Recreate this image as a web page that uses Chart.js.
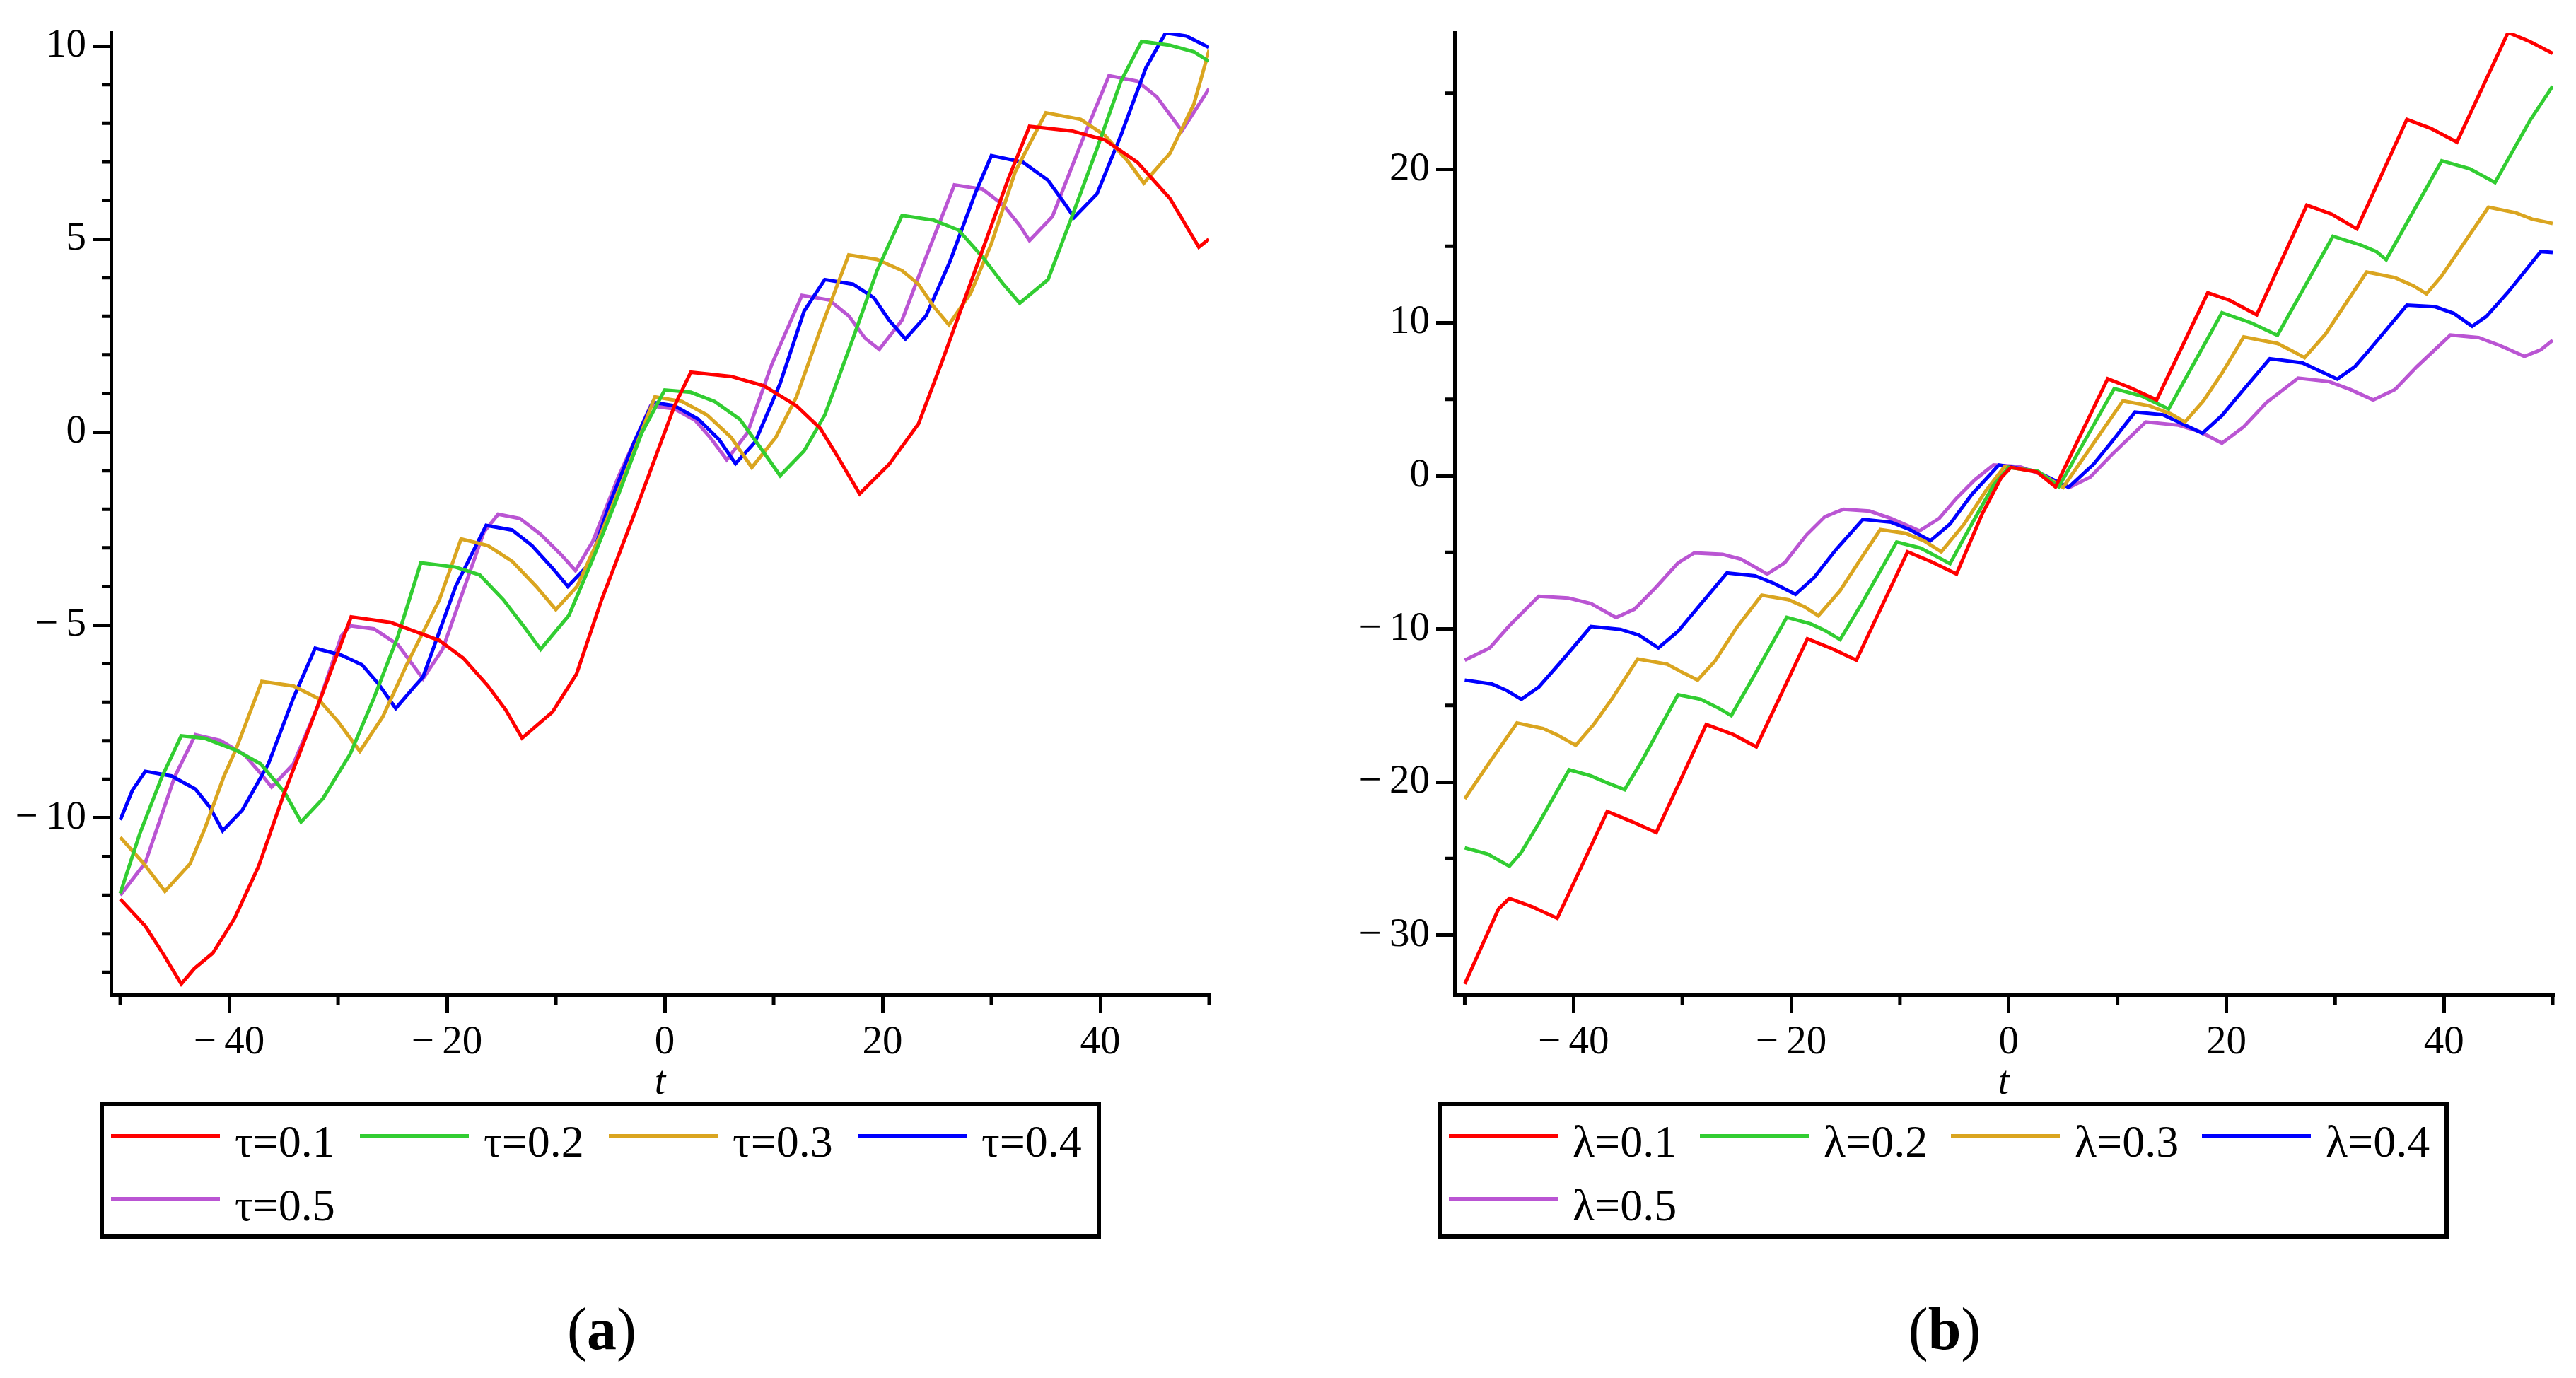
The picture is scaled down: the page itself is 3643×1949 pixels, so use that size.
<!DOCTYPE html>
<html>
<head>
<meta charset="utf-8">
<script src="https://cdn.jsdelivr.net/npm/chart.js@4.4.1/dist/chart.umd.min.js"></script>
<style>
  html, body { margin: 0; background: #fff; }
  #page { position: relative; width: 3643px; height: 1949px; font-family: 'Liberation Serif', 'Times New Roman', serif; color: #000; }
  .plot { position: absolute; top: 0; }
  .legend { position: absolute; top: 1558px; height: 194px; border: 6px solid #000; box-sizing: border-box; background: #fff; }
  .legend .swatch { position: absolute; height: 5px; width: 154px; }
  .legend .label { position: absolute; font-size: 64px; line-height: 64px; white-space: nowrap; }
  .caption { position: absolute; top: 1838px; width: 300px; text-align: center; font-size: 84px; line-height: 84px; }
</style>
</head>
<body>
<div id="page">
  <canvas id="plotA" class="plot" width="1760" height="1580" style="left:0px"></canvas>
  <canvas id="plotB" class="plot" width="1783" height="1580" style="left:1860px"></canvas>
  <div id="legendA" class="legend" style="left:141px;width:1416px"></div>
  <div id="legendB" class="legend" style="left:2033px;width:1430px"></div>
  <div class="caption" style="left:701px">(<b>a</b>)</div>
  <div class="caption" style="left:2600px">(<b>b</b>)</div>
</div>
<script>
// ---- panel (a): tau series ----
const tauLabels = ['τ=0.1', 'τ=0.2', 'τ=0.3', 'τ=0.4', 'τ=0.5'];

const tauT1 = [-50, -47.7, -46, -44.4, -43.2, -41.5, -39.5, -37.3, -35, -32, -28.8, -25.2, -20.7, -18.5, -16.25, -14.6, -13.1, -10.3, -8.1, -5.8, -2.8, 0.9, 2.4, 6.1, 9.1, 12.1, 14.3, 15.8, 17.9, 20.6, 23.3, 25.5, 28.5, 31.5, 33.5, 37.4, 40.4, 43.4, 46.4, 49.05, 50];
const tauY1 = [-12.1, -12.8, -13.55, -14.3, -13.9, -13.5, -12.6, -11.25, -9.4, -7.2, -4.79, -4.93, -5.4, -5.86, -6.57, -7.2, -7.93, -7.25, -6.27, -4.35, -2.13, 0.68, 1.55, 1.44, 1.2, 0.68, 0.09, -0.6, -1.6, -0.84, 0.21, 1.85, 4.18, 6.52, 7.92, 7.8, 7.57, 6.99, 6.05, 4.79, 5.0];

const tauT2 = [-50, -48.2, -46.2, -44.4, -42.3, -39.4, -37.1, -34.9, -33.4, -31.4, -28.9, -26.7, -24.5, -22.4, -19.2, -17, -14.8, -12.9, -11.4, -8.8, -6.6, -4.3, -2.1, 0, 2.4, 4.6, 6.9, 8.7, 10.6, 12.8, 14.7, 17.3, 19.5, 21.8, 24.7, 27, 29.2, 31.1, 32.6, 35.2, 37.4, 39.7, 41.9, 43.8, 46.4, 48.6, 50];
const tauY2 = [-11.95, -10.4, -8.95, -7.87, -7.93, -8.24, -8.6, -9.34, -10.1, -9.5, -8.35, -6.89, -5.29, -3.39, -3.5, -3.7, -4.35, -5.05, -5.63, -4.75, -3.29, -1.66, -0.02, 1.09, 1.03, 0.79, 0.33, -0.37, -1.13, -0.49, 0.44, 2.43, 4.18, 5.61, 5.49, 5.23, 4.53, 3.83, 3.34, 3.95, 5.58, 7.34, 9.09, 10.12, 10.02, 9.85, 9.6];

const tauT3 = [-50, -47.9, -45.9, -43.6, -42.2, -40.5, -39.4, -37, -34.1, -31.9, -30, -28, -25.9, -23.7, -20.7, -18.7, -16.25, -14, -11.8, -10, -8.05, -5.8, -3.6, -0.9, 1.6, 3.9, 6.1, 8, 10.2, 12.1, 14.3, 16.9, 19.5, 21.8, 23.3, 24.7, 26.1, 28.1, 30, 32.2, 35, 38.2, 40.4, 42.6, 44, 46.4, 48.6, 50];
const tauY3 = [-10.5, -11.16, -11.9, -11.19, -10.25, -8.93, -8.24, -6.46, -6.58, -6.89, -7.5, -8.27, -7.38, -6.03, -4.35, -2.77, -2.94, -3.35, -4.0, -4.6, -4.0, -2.6, -1.07, 0.91, 0.79, 0.44, -0.14, -0.92, -0.14, 0.91, 2.66, 4.59, 4.47, 4.18, 3.83, 3.25, 2.78, 3.6, 4.88, 6.75, 8.27, 8.1, 7.69, 6.99, 6.45, 7.22, 8.5, 9.9];

const tauT4 = [-50, -48.9, -47.7, -45.3, -43.1, -41.8, -40.6, -38.8, -36.4, -34.1, -32.1, -29.7, -27.8, -26.3, -24.7, -23, -22.2, -19.2, -16.4, -14, -12.2, -10.3, -8.9, -6.9, -5.1, -2.8, -1.1, 0.9, 3.1, 5, 6.5, 8.3, 10.6, 12.8, 14.7, 17.3, 19.2, 20.6, 22.1, 24, 26.2, 28.5, 30, 32.9, 35.2, 36.7, 37.6, 39.7, 41.9, 44.2, 46, 47.9, 50];
const tauY4 = [-10.05, -9.29, -8.79, -8.91, -9.25, -9.71, -10.33, -9.8, -8.6, -6.89, -5.6, -5.78, -6.03, -6.52, -7.16, -6.6, -6.35, -4.0, -2.42, -2.54, -2.94, -3.53, -4.0, -3.41, -1.89, -0.26, 0.77, 0.68, 0.33, -0.2, -0.82, -0.26, 1.26, 3.13, 3.95, 3.83, 3.48, 2.9, 2.41, 3.01, 4.42, 6.17, 7.16, 6.99, 6.52, 5.93, 5.56, 6.17, 7.69, 9.44, 10.34, 10.26, 9.96];

const tauT5 = [-50, -47.7, -45, -43.1, -40.8, -38.6, -37.1, -36.1, -34.1, -31.9, -29.7, -28.9, -26.7, -24.5, -22.2, -20.4, -18.5, -16.6, -15.3, -13.3, -11.4, -9.5, -8.2, -6.6, -4.3, -1.3, 0.9, 2.8, 4.2, 5.7, 7.6, 9.8, 12.6, 15.1, 16.9, 18.4, 19.7, 21.8, 24, 26.6, 29.2, 31.1, 32.6, 33.5, 35.6, 38.2, 40.8, 43.4, 45.2, 47.5, 50];
const tauY5 = [-12.0, -11.16, -8.93, -7.84, -7.99, -8.36, -8.85, -9.2, -8.6, -7.13, -5.29, -5.02, -5.1, -5.51, -6.39, -5.63, -4.11, -2.59, -2.13, -2.24, -2.65, -3.18, -3.59, -2.83, -1.19, 0.68, 0.6, 0.3, -0.15, -0.72, -0.02, 1.73, 3.54, 3.42, 3.01, 2.43, 2.14, 2.9, 4.53, 6.4, 6.29, 5.88, 5.35, 4.96, 5.58, 7.45, 9.23, 9.09, 8.68, 7.8, 8.9];

const tauXMajor = [-40, -20, 0, 20, 40];
const tauXMinor = [-50, -30, -10, 10, 30, 50];
const tauYMajor = [-10, -5, 0, 5, 10];
const tauYMinor = [-14, -13, -12, -11, -9, -8, -7, -6, -4, -3, -2, -1, 1, 2, 3, 4, 6, 7, 8, 9];

// ---- panel (b): lambda series ----
const lamLabels = ['λ=0.1', 'λ=0.2', 'λ=0.3', 'λ=0.4', 'λ=0.5'];

const lamT1 = [-50, -46.9, -45.9, -43.8, -41.5, -36.9, -34.6, -32.4, -27.8, -25.3, -23.2, -18.5, -16.2, -14, -9.3, -7.1, -4.8, -2.4, -0.7, 0.2, 2.6, 4.3, 9.1, 11.2, 13.6, 18.3, 20.3, 22.8, 27.4, 29.7, 32, 36.6, 38.8, 41.2, 45.9, 47.9, 50];
const lamY1 = [-33.2, -28.3, -27.6, -28.15, -28.9, -21.92, -22.6, -23.3, -16.24, -16.9, -17.7, -10.64, -11.3, -12.04, -4.96, -5.61, -6.41, -2.43, -0.13, 0.55, 0.25, -0.72, 6.34, 5.75, 4.96, 11.96, 11.47, 10.52, 17.68, 17.09, 16.13, 23.28, 22.7, 21.8, 28.96, 28.37, 27.6];

const lamT2 = [-50, -47.9, -45.9, -44.8, -43.2, -40.4, -38.4, -37.1, -35.3, -33.7, -30.4, -28.3, -26.6, -25.5, -23.6, -20.4, -18.2, -16.9, -15.5, -13.5, -10.3, -8.1, -6.8, -5.4, -3.4, -1.4, 0, 2.7, 4.6, 9.7, 12.2, 14.7, 19.6, 22.3, 24.7, 29.8, 32.4, 33.8, 34.7, 39.8, 42.4, 44.7, 47.9, 50];
const lamY2 = [-24.3, -24.7, -25.5, -24.6, -22.7, -19.2, -19.6, -20.0, -20.5, -18.6, -14.3, -14.6, -15.2, -15.66, -13.3, -9.24, -9.67, -10.1, -10.7, -8.34, -4.32, -4.72, -5.2, -5.73, -3.15, -0.62, 0.55, 0.3, -0.72, 5.7, 5.22, 4.37, 10.66, 9.99, 9.18, 15.65, 15.07, 14.65, 14.12, 20.58, 20.05, 19.16, 23.2, 25.46];

const lamT3 = [-50, -47.9, -45.2, -42.8, -41.5, -39.8, -38.1, -36.4, -34.1, -31.4, -30.1, -28.6, -27, -25, -22.7, -20.2, -18.7, -17.5, -15.5, -13.5, -11.8, -9.5, -7.8, -6.2, -4.1, -2.1, -0.4, 2.6, 5.0, 10.5, 12.9, 14.9, 16.2, 17.9, 19.6, 21.6, 24.7, 26, 27.2, 29.1, 32.9, 35.5, 37.2, 38.4, 39.8, 44.1, 46.6, 48.1, 50];
const lamY3 = [-21.1, -18.9, -16.14, -16.5, -16.92, -17.6, -16.2, -14.5, -11.96, -12.3, -12.8, -13.34, -12.1, -9.9, -7.79, -8.1, -8.58, -9.14, -7.5, -5.32, -3.51, -3.75, -4.24, -4.96, -3.15, -0.98, 0.59, 0.3, -0.75, 4.9, 4.58, 4.05, 3.52, 4.9, 6.7, 9.07, 8.65, 8.18, 7.72, 9.24, 13.31, 12.95, 12.42, 11.89, 13.06, 17.55, 17.19, 16.77, 16.49];

const lamT4 = [-50, -47.5, -46.2, -44.8, -43.2, -41.1, -38.4, -35.7, -34, -32.2, -30.4, -28.7, -25.9, -23.3, -21.6, -19.6, -17.9, -15.9, -13.4, -10.8, -9.1, -7.2, -5.4, -3.4, -0.9, 2.5, 5.5, 7.8, 9.5, 11.6, 14.2, 15.6, 17.8, 19.6, 21.6, 24, 27, 28.7, 30.2, 31.8, 33.1, 36.6, 39.2, 40.9, 42.6, 43.9, 45.9, 48.9, 50];
const lamY4 = [-13.34, -13.6, -14.0, -14.6, -13.8, -12.1, -9.84, -10.03, -10.4, -11.24, -10.16, -8.71, -6.34, -6.53, -7.02, -7.74, -6.65, -4.84, -2.84, -3.03, -3.51, -4.24, -3.15, -1.22, 0.71, 0.3, -0.75, 0.76, 2.25, 4.16, 3.99, 3.52, 2.78, 3.94, 5.64, 7.65, 7.38, 6.81, 6.32, 7.12, 8.18, 11.15, 11.05, 10.62, 9.77, 10.41, 12.0, 14.65, 14.59];

const lamT5 = [-50, -47.7, -45.9, -43.2, -40.5, -38.4, -36.1, -34.4, -32.4, -30.4, -28.9, -26.3, -24.6, -22.2, -20.6, -18.6, -16.9, -15.2, -12.8, -10.8, -8.2, -6.4, -4.8, -3.1, -1.4, 1.0, 3.0, 5.6, 7.5, 9.5, 12.6, 15.6, 17.6, 19.6, 21.6, 23.7, 26.6, 29.4, 31.4, 33.5, 35.5, 37.5, 40.6, 43.2, 45.2, 47.4, 48.9, 50];
const lamY5 = [-12.04, -11.24, -9.79, -7.86, -7.98, -8.34, -9.26, -8.71, -7.26, -5.69, -5.03, -5.13, -5.44, -6.41, -5.68, -3.87, -2.67, -2.18, -2.3, -2.79, -3.59, -2.79, -1.46, -0.25, 0.71, 0.6, 0.1, -0.75, -0.08, 1.4, 3.52, 3.31, 2.88, 2.14, 3.2, 4.79, 6.38, 6.17, 5.64, 4.96, 5.64, 7.12, 9.2, 9.03, 8.5, 7.8, 8.23, 8.86];

const lamXMajor = [-40, -20, 0, 20, 40];
const lamXMinor = [-50, -30, -10, 10, 30, 50];
const lamYMajor = [-30, -20, -10, 0, 10, 20];
const lamYMinor = [-25, -15, -5, 5, 15, 25];

const seriesColors = ['#ff0000', '#32cd32', '#daa520', '#0000ff', '#ba55d3'];
const FONT = "'Liberation Serif', 'Times New Roman', serif";

// small tick marks between the labelled ones
const minorTicks = {
  id: 'minorTicks',
  afterDraw(chart, args, opts) {
    const { ctx } = chart;
    const x = chart.scales.x;
    const y = chart.scales.y;
    ctx.save();
    ctx.strokeStyle = '#000';
    ctx.lineWidth = 5;
    ctx.beginPath();
    opts.x.forEach((v) => {
      const px = x.getPixelForValue(v);
      ctx.moveTo(px, x.top);
      ctx.lineTo(px, x.top + 15);
    });
    opts.y.forEach((v) => {
      const py = y.getPixelForValue(v);
      ctx.moveTo(y.right, py);
      ctx.lineTo(y.right - 13, py);
    });
    ctx.stroke();
    ctx.restore();
  },
};

const fmt = (v) => (v < 0 ? '\u2212\u2009' + Math.abs(v) : String(v));

function makePlot(id, times, values, labels, range, ticks, yAxisWidth, padRight) {
  const datasets = times.map((t, i) => ({
    label: labels[i],
    data: t.map((tv, k) => ({ x: tv, y: values[i][k] })),
    borderColor: seriesColors[i],
    borderWidth: 5,
    pointRadius: 0,
    tension: 0,
    fill: false,
  }));

  const axisGrid = { display: true, drawOnChartArea: false, drawTicks: true, tickLength: 26, lineWidth: 5, color: '#000' };
  const axisBorder = { display: true, width: 5, color: '#000' };
  const tickFont = { family: FONT, size: 57 };

  return new Chart(document.getElementById(id), {
    type: 'line',
    data: { datasets },
    options: {
      responsive: false,
      animation: false,
      devicePixelRatio: 1,
      layout: { padding: { top: 46, right: padRight, bottom: 0, left: 0 } },
      scales: {
        x: {
          type: 'linear',
          min: range.xMin,
          max: 50,
          afterBuildTicks: (s) => { s.ticks = ticks.xMajor.map((v) => ({ value: v })); },
          afterFit: (s) => { s.height = 173; },
          grid: axisGrid,
          border: axisBorder,
          ticks: { font: tickFont, color: '#000', padding: 8, maxRotation: 0, callback: fmt },
          title: { display: true, text: 't', color: '#000', font: { family: FONT, size: 56, style: 'italic' }, padding: { top: 0, bottom: 14 } },
        },
        y: {
          type: 'linear',
          min: range.yMin,
          max: range.yMax,
          afterBuildTicks: (s) => { s.ticks = ticks.yMajor.map((v) => ({ value: v })); },
          afterFit: (s) => { s.width = yAxisWidth; },
          grid: axisGrid,
          border: axisBorder,
          ticks: { font: tickFont, color: '#000', padding: 9, callback: fmt },
        },
      },
      plugins: {
        legend: { display: false },
        tooltip: { enabled: false },
        minorTicks: { x: ticks.xMinor, y: ticks.yMinor },
      },
    },
    plugins: [minorTicks],
  });
}

function makeLegend(id, chart, stride) {
  const box = document.getElementById(id);
  chart.data.datasets.forEach((ds, i) => {
    const col = i % 4;
    const row = Math.floor(i / 4);
    const line = document.createElement('div');
    line.className = 'swatch';
    line.style.background = ds.borderColor;
    line.style.left = (10 + col * stride) + 'px';
    line.style.top = (40 + row * 89) + 'px';
    const text = document.createElement('div');
    text.className = 'label';
    text.textContent = ds.label;
    text.style.left = (185 + col * stride) + 'px';
    text.style.top = (19 + row * 90) + 'px';
    box.appendChild(line);
    box.appendChild(text);
  });
}

const chartA = makePlot('plotA',
  [tauT1, tauT2, tauT3, tauT4, tauT5],
  [tauY1, tauY2, tauY3, tauY4, tauY5],
  tauLabels,
  { xMin: -50.85, yMin: -14.58, yMax: 10.35 },
  { xMajor: tauXMajor, xMinor: tauXMinor, yMajor: tauYMajor, yMinor: tauYMinor },
  157, 50);

const chartB = makePlot('plotB',
  [lamT1, lamT2, lamT3, lamT4, lamT5],
  [lamY1, lamY2, lamY3, lamY4, lamY5],
  lamLabels,
  { xMin: -50.94, yMin: -33.9, yMax: 28.96 },
  { xMajor: lamXMajor, xMinor: lamXMinor, yMajor: lamYMajor, yMinor: lamYMinor },
  197, 33);

makeLegend('legendA', chartA, 352);
makeLegend('legendB', chartB, 355);
</script>
</body>
</html>
